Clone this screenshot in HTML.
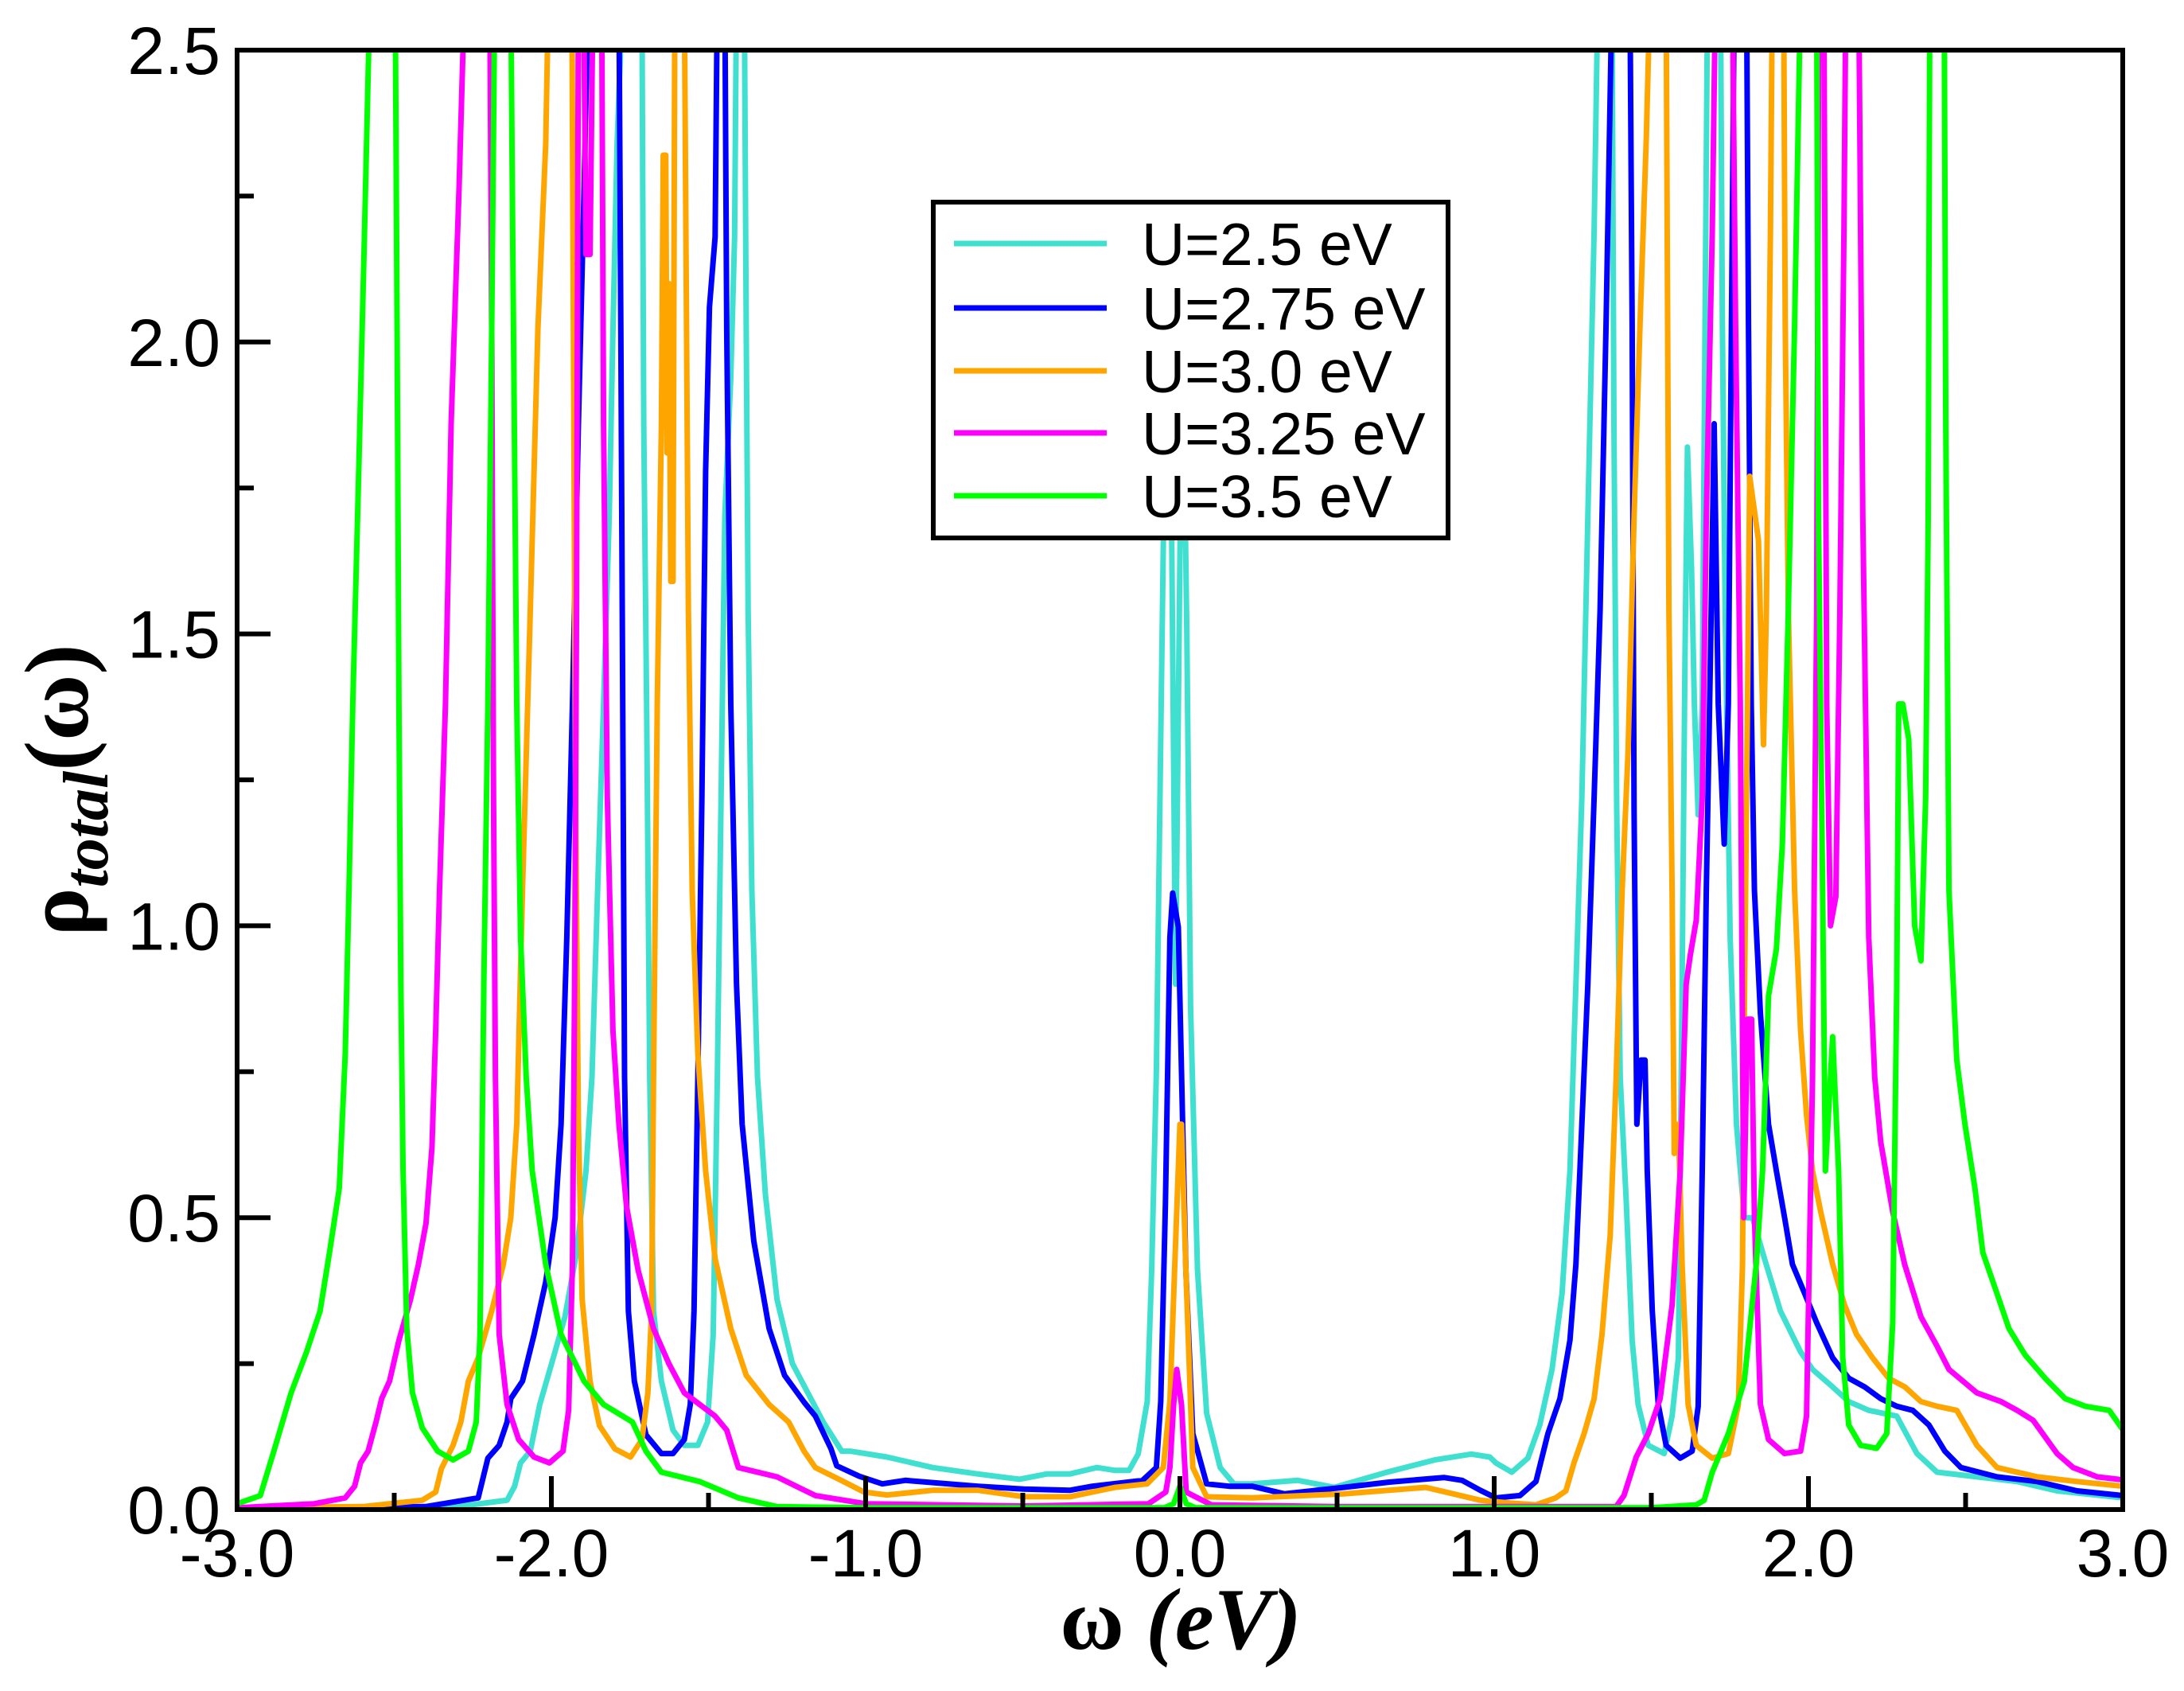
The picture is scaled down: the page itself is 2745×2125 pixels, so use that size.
<!DOCTYPE html>
<html><head><meta charset="utf-8"><style>
html,body{margin:0;padding:0;background:#fff}
svg{display:block}
</style></head><body>
<svg id="chart" width="2745" height="2125" viewBox="0 0 2745 2125" xmlns="http://www.w3.org/2000/svg">
<defs><clipPath id="plotclip"><rect x="298" y="63" width="2370" height="1834"/></clipPath></defs>
<rect width="2745" height="2125" fill="#fff"/>
<g id="series" clip-path="url(#plotclip)"></g>
<g id="axes"></g>
<text x="1484" y="2072" text-anchor="middle" font-family="Liberation Serif, serif" font-weight="bold" font-size="110">ω <tspan font-style="italic">(eV)</tspan></text>
<text transform="translate(110,993) rotate(-90)" text-anchor="middle" font-family="Liberation Serif, serif" font-weight="bold" font-size="114">ρ<tspan font-style="italic" font-size="80" dy="25">total</tspan><tspan dy="-25">(ω)</tspan></text>
<g id="legend"></g>
</svg>
<script>
const xTicks = [-3, -2, -1, 0, 1, 2, 3];
const xTickLabels = ["-3.0", "-2.0", "-1.0", "0.0", "1.0", "2.0", "3.0"];
const yTicks = [0, 0.5, 1, 1.5, 2, 2.5];
const yTickLabels = ["0.0", "0.5", "1.0", "1.5", "2.0", "2.5"];
const seriesNames = ["U=2.5 eV", "U=2.75 eV", "U=3.0 eV", "U=3.25 eV", "U=3.5 eV"];
const seriesColors = ["#40e0d0", "#0000ff", "#ffa500", "#ff00ff", "#00ff00"];

const u250 = [[-3,0.003],[-2.3,0.005],[-2.141,0.016],[-2.117,0.04],[-2.098,0.08],[-2.067,0.1],[-2.037,0.18],[-1.994,0.26],[-1.957,0.33],[-1.92,0.44],[-1.89,0.58],[-1.871,0.74],[-1.853,1.06],[-1.834,1.38],[-1.816,1.7],[-1.804,2.02],[-1.791,2.34],[-1.773,2.6],[-1.742,3.5],[-1.712,2.6],[-1.706,1.86],[-1.697,1.38],[-1.687,0.74],[-1.675,0.34],[-1.65,0.22],[-1.613,0.136],[-1.577,0.11],[-1.534,0.11],[-1.503,0.15],[-1.485,0.3],[-1.472,0.74],[-1.46,1.22],[-1.448,1.7],[-1.429,1.94],[-1.417,2.18],[-1.411,2.6],[-1.399,3.5],[-1.386,2.6],[-1.38,2.02],[-1.374,1.54],[-1.362,1.06],[-1.344,0.74],[-1.319,0.54],[-1.282,0.36],[-1.233,0.25],[-1.184,0.2],[-1.135,0.15],[-1.076,0.1],[-1.049,0.1],[-0.932,0.09],[-0.787,0.072],[-0.642,0.061],[-0.511,0.052],[-0.424,0.061],[-0.351,0.061],[-0.264,0.072],[-0.206,0.067],[-0.162,0.067],[-0.133,0.095],[-0.104,0.185],[-0.09,0.41],[-0.075,0.75],[-0.061,1.32],[-0.053,1.65],[-0.043,1.9],[-0.03,1.9],[-0.014,0.9],[0.005,1.9],[0.012,1.9],[0.022,1.5],[0.034,0.86],[0.056,0.41],[0.085,0.165],[0.128,0.072],[0.172,0.044],[0.23,0.044],[0.375,0.05],[0.491,0.038],[0.666,0.065],[0.811,0.085],[0.927,0.095],[0.986,0.09],[1.005,0.08],[1.056,0.064],[1.107,0.088],[1.145,0.145],[1.184,0.24],[1.216,0.37],[1.241,0.58],[1.26,0.9],[1.279,1.22],[1.298,1.7],[1.318,2.19],[1.33,2.6],[1.352,3.5],[1.375,2.6],[1.381,1.86],[1.39,1.2],[1.401,0.74],[1.42,0.53],[1.439,0.29],[1.458,0.18],[1.49,0.11],[1.541,0.096],[1.566,0.16],[1.586,0.26],[1.598,0.9],[1.607,1.46],[1.615,1.82],[1.628,1.61],[1.637,1.38],[1.649,1.19],[1.662,1.38],[1.671,2.03],[1.679,2.6],[1.699,3.5],[1.72,2.6],[1.726,2.03],[1.735,1.54],[1.751,0.98],[1.771,0.66],[1.796,0.5],[1.822,0.5],[1.86,0.43],[1.911,0.34],[1.975,0.27],[2.013,0.24],[2.077,0.21],[2.128,0.185],[2.192,0.17],[2.281,0.16],[2.345,0.096],[2.409,0.064],[2.536,0.056],[2.664,0.048],[2.791,0.032],[3.0,0.02]];

const u275 = [[-3,0.002],[-2.4,0.005],[-2.233,0.02],[-2.202,0.088],[-2.166,0.11],[-2.141,0.15],[-2.129,0.19],[-2.092,0.22],[-2.055,0.3],[-2.018,0.39],[-1.988,0.5],[-1.969,0.66],[-1.951,0.98],[-1.933,1.38],[-1.914,1.86],[-1.896,2.26],[-1.883,2.6],[-1.834,3.5],[-1.785,2.6],[-1.779,2.02],[-1.773,1.38],[-1.767,0.74],[-1.755,0.34],[-1.736,0.22],[-1.699,0.128],[-1.65,0.096],[-1.613,0.096],[-1.577,0.12],[-1.558,0.18],[-1.546,0.34],[-1.534,0.74],[-1.521,1.22],[-1.509,1.78],[-1.497,2.06],[-1.479,2.18],[-1.472,2.6],[-1.46,3.5],[-1.448,2.6],[-1.442,2.02],[-1.429,1.38],[-1.411,0.9],[-1.393,0.66],[-1.356,0.46],[-1.307,0.31],[-1.258,0.23],[-1.196,0.184],[-1.16,0.16],[-1.11,0.104],[-1.092,0.075],[-1.02,0.057],[-0.947,0.044],[-0.874,0.05],[-0.642,0.04],[-0.496,0.035],[-0.351,0.033],[-0.279,0.04],[-0.119,0.05],[-0.075,0.072],[-0.061,0.185],[-0.046,0.525],[-0.032,0.98],[-0.023,1.056],[-0.005,0.998],[0.005,0.75],[0.019,0.41],[0.041,0.13],[0.085,0.044],[0.157,0.04],[0.23,0.04],[0.332,0.027],[0.521,0.038],[0.666,0.047],[0.84,0.055],[0.898,0.05],[0.956,0.033],[1.005,0.02],[1.082,0.024],[1.133,0.048],[1.171,0.13],[1.209,0.19],[1.241,0.29],[1.26,0.42],[1.279,0.66],[1.298,0.9],[1.318,1.22],[1.337,1.54],[1.356,2.03],[1.375,2.6],[1.403,3.5],[1.432,2.6],[1.439,2.03],[1.445,1.2],[1.454,0.66],[1.467,0.77],[1.48,0.77],[1.487,0.58],[1.503,0.34],[1.522,0.18],[1.547,0.11],[1.592,0.088],[1.63,0.1],[1.649,0.177],[1.662,0.58],[1.675,1.06],[1.688,1.46],[1.7,1.86],[1.713,1.38],[1.732,1.14],[1.745,1.38],[1.755,2.03],[1.764,2.6],[1.783,3.5],[1.803,2.6],[1.809,2.03],[1.818,1.38],[1.828,1.06],[1.847,0.85],[1.873,0.66],[1.898,0.58],[1.924,0.5],[1.949,0.42],[1.988,0.37],[2.026,0.32],[2.077,0.26],[2.128,0.225],[2.179,0.21],[2.23,0.19],[2.281,0.177],[2.332,0.17],[2.383,0.145],[2.434,0.1],[2.485,0.072],[2.6,0.056],[2.728,0.048],[2.855,0.032],[3.0,0.024]];

const u300 = [[-3,0.003],[-2.6,0.005],[-2.411,0.016],[-2.368,0.03],[-2.35,0.07],[-2.313,0.11],[-2.288,0.15],[-2.264,0.22],[-2.233,0.26],[-2.19,0.34],[-2.153,0.42],[-2.129,0.5],[-2.11,0.66],[-2.092,1.06],[-2.067,1.54],[-2.043,2.02],[-2.018,2.34],[-2.009,2.6],[-1.972,3.5],[-1.935,2.6],[-1.93,2.02],[-1.923,1.22],[-1.914,0.66],[-1.902,0.36],[-1.877,0.22],[-1.847,0.144],[-1.798,0.104],[-1.748,0.09],[-1.712,0.12],[-1.693,0.2],[-1.681,0.34],[-1.675,0.74],[-1.663,1.38],[-1.65,1.86],[-1.644,2.32],[-1.636,2.32],[-1.632,1.81],[-1.626,2.1],[-1.62,1.59],[-1.613,1.59],[-1.607,2.6],[-1.593,3.5],[-1.577,2.6],[-1.564,1.54],[-1.552,1.06],[-1.534,0.78],[-1.509,0.58],[-1.479,0.43],[-1.429,0.31],[-1.38,0.23],[-1.307,0.18],[-1.245,0.15],[-1.196,0.1],[-1.16,0.072],[-1.078,0.05],[-1.005,0.03],[-0.932,0.025],[-0.787,0.033],[-0.642,0.033],[-0.496,0.022],[-0.351,0.022],[-0.206,0.038],[-0.104,0.044],[-0.053,0.072],[-0.032,0.185],[-0.017,0.41],[0.0,0.66],[0.005,0.66],[0.019,0.41],[0.041,0.072],[0.085,0.022],[0.23,0.02],[0.521,0.027],[0.782,0.038],[0.869,0.027],[0.956,0.016],[1.055,0.011],[1.133,0.008],[1.196,0.02],[1.228,0.032],[1.254,0.08],[1.286,0.13],[1.318,0.19],[1.343,0.3],[1.369,0.47],[1.388,0.74],[1.407,1.06],[1.426,1.3],[1.445,1.7],[1.464,2.03],[1.484,2.35],[1.496,2.6],[1.522,3.5],[1.547,2.6],[1.556,1.54],[1.566,1.06],[1.573,0.61],[1.586,0.66],[1.598,0.42],[1.617,0.18],[1.643,0.11],[1.694,0.088],[1.745,0.096],[1.777,0.18],[1.79,0.42],[1.796,0.85],[1.806,1.38],[1.813,1.77],[1.841,1.66],[1.857,1.31],[1.866,1.54],[1.879,2.19],[1.885,2.6],[1.903,3.5],[1.921,2.6],[1.926,2.03],[1.936,1.54],[1.956,1.06],[1.975,0.82],[1.994,0.675],[2.013,0.58],[2.039,0.51],[2.077,0.42],[2.115,0.35],[2.153,0.3],[2.204,0.26],[2.255,0.225],[2.307,0.21],[2.358,0.185],[2.409,0.177],[2.472,0.17],[2.536,0.11],[2.6,0.072],[2.728,0.056],[2.855,0.048],[3.0,0.04]];

const u325 = [[-3,0.003],[-2.755,0.01],[-2.656,0.02],[-2.626,0.04],[-2.607,0.08],[-2.583,0.1],[-2.558,0.15],[-2.54,0.19],[-2.515,0.22],[-2.485,0.29],[-2.448,0.36],[-2.423,0.42],[-2.399,0.49],[-2.38,0.62],[-2.368,0.82],[-2.356,1.06],[-2.337,1.38],[-2.319,1.86],[-2.294,2.26],[-2.276,2.6],[-2.239,3.5],[-2.196,2.6],[-2.19,2.02],[-2.184,1.22],[-2.178,0.74],[-2.166,0.3],[-2.141,0.18],[-2.104,0.12],[-2.055,0.09],[-2.006,0.08],[-1.963,0.1],[-1.945,0.17],[-1.933,0.42],[-1.926,0.9],[-1.92,1.54],[-1.914,2.6],[-1.904,3.0],[-1.89,2.15],[-1.877,2.15],[-1.859,3.0],[-1.84,2.6],[-1.834,1.86],[-1.822,1.22],[-1.804,0.82],[-1.785,0.66],[-1.761,0.52],[-1.724,0.41],[-1.675,0.31],[-1.626,0.25],[-1.577,0.2],[-1.479,0.16],[-1.442,0.136],[-1.405,0.072],[-1.282,0.056],[-1.16,0.024],[-1.0,0.01],[-0.5,0.006],[-0.1,0.01],[-0.045,0.03],[-0.032,0.072],[-0.02,0.18],[-0.01,0.24],[0.005,0.18],[0.02,0.03],[0.1,0.008],[0.5,0.005],[1.0,0.005],[1.388,0.005],[1.413,0.024],[1.452,0.09],[1.49,0.13],[1.528,0.19],[1.566,0.35],[1.592,0.58],[1.611,0.9],[1.624,0.95],[1.643,1.01],[1.662,1.22],[1.675,1.7],[1.694,2.19],[1.704,2.6],[1.732,3.5],[1.758,2.6],[1.768,2.03],[1.783,1.38],[1.794,0.5],[1.806,0.84],[1.819,0.84],[1.828,0.5],[1.847,0.18],[1.873,0.12],[1.924,0.096],[1.975,0.1],[1.994,0.16],[2.013,0.74],[2.026,1.54],[2.033,2.6],[2.041,3.0],[2.049,2.6],[2.058,1.38],[2.07,1.0],[2.087,1.05],[2.1,1.54],[2.113,2.19],[2.119,2.6],[2.141,3.5],[2.16,2.6],[2.173,1.7],[2.192,0.98],[2.211,0.74],[2.23,0.63],[2.268,0.51],[2.306,0.42],[2.358,0.33],[2.409,0.28],[2.447,0.24],[2.536,0.2],[2.613,0.185],[2.664,0.17],[2.715,0.153],[2.791,0.096],[2.842,0.072],[2.919,0.056],[3.0,0.051]];

const u350 = [[-3.0,0.01],[-2.926,0.024],[-2.883,0.1],[-2.828,0.2],[-2.779,0.27],[-2.736,0.34],[-2.706,0.44],[-2.675,0.55],[-2.656,0.78],[-2.644,1.06],[-2.632,1.38],[-2.613,1.78],[-2.595,2.18],[-2.577,2.6],[-2.54,3.5],[-2.497,2.6],[-2.491,2.02],[-2.485,1.38],[-2.479,0.9],[-2.472,0.58],[-2.46,0.31],[-2.442,0.2],[-2.411,0.14],[-2.362,0.1],[-2.313,0.085],[-2.264,0.1],[-2.239,0.15],[-2.227,0.3],[-2.215,0.9],[-2.202,1.38],[-2.19,2.02],[-2.18,2.6],[-2.155,3.5],[-2.129,2.6],[-2.123,2.18],[-2.11,1.38],[-2.098,0.98],[-2.08,0.74],[-2.061,0.58],[-2.018,0.42],[-1.969,0.3],[-1.896,0.22],[-1.834,0.18],[-1.742,0.15],[-1.699,0.1],[-1.65,0.064],[-1.528,0.048],[-1.405,0.02],[-1.282,0.005],[-1.0,0.003],[-0.05,0.003],[-0.02,0.01],[0,0.04],[0.02,0.01],[0.05,0.003],[1.5,0.003],[1.643,0.008],[1.668,0.016],[1.694,0.064],[1.745,0.13],[1.796,0.22],[1.834,0.42],[1.854,0.58],[1.873,0.88],[1.898,0.96],[1.917,1.14],[1.936,1.54],[1.956,2.03],[1.975,2.6],[2.0,3.5],[2.026,2.6],[2.032,1.7],[2.045,1.06],[2.054,0.58],[2.077,0.81],[2.096,0.58],[2.109,0.26],[2.128,0.145],[2.166,0.11],[2.217,0.105],[2.249,0.13],[2.268,0.32],[2.281,0.9],[2.287,1.38],[2.3,1.38],[2.319,1.32],[2.338,1.0],[2.358,0.94],[2.373,1.22],[2.381,1.7],[2.386,2.6],[2.409,3.5],[2.432,2.6],[2.437,1.86],[2.447,1.06],[2.472,0.77],[2.498,0.66],[2.53,0.55],[2.555,0.44],[2.6,0.37],[2.638,0.31],[2.689,0.265],[2.753,0.225],[2.817,0.19],[2.881,0.177],[2.957,0.17],[3.0,0.137]];

const allSeries = [u250, u275, u300, u325, u350];
const NS = "http://www.w3.org/2000/svg";
const L = 298, R = 2668, T = 63, B = 1897;
const xMin = -3, xMax = 3, yMin = 0, yMax = 2.5;
function xs(w) { return L + (w - xMin) / (xMax - xMin) * (R - L); }
function ys(r) { return B - (r - yMin) / (yMax - yMin) * (B - T); }
function mk(tag, attrs, parent) {
  const e = document.createElementNS(NS, tag);
  for (const k in attrs) e.setAttribute(k, attrs[k]);
  parent.appendChild(e);
  return e;
}
const slugs = ["u-2-5", "u-2-75", "u-3-0", "u-3-25", "u-3-5"];
const sg = document.getElementById("series");
allSeries.forEach((data, i) => {
  const d = data.map((p, j) => (j ? "L" : "M") + xs(p[0]).toFixed(1) + "," + ys(p[1]).toFixed(1)).join("");
  const p = mk("path", {d: d, fill: "none", stroke: seriesColors[i], "stroke-width": 7, "stroke-linejoin": "round"}, sg);
  
  
});

const ax = document.getElementById("axes");
const frame = mk("rect", {x: L, y: T, width: R - L, height: B - T, fill: "none", stroke: "#000", "stroke-width": 6}, ax);


for (let v = -3; v <= 3.001; v += 0.5) {
  const major = Math.abs(v - Math.round(v)) < 1e-6;
  const t = mk("line", {x1: xs(v), x2: xs(v), y1: B, y2: B - (major ? 42 : 21), stroke: "#000", "stroke-width": 6}, ax);
  
  
}
for (let v = 0; v <= 2.501; v += 0.25) {
  const major = Math.abs(v * 2 - Math.round(v * 2)) < 1e-6;
  const t = mk("line", {x1: L, x2: L + (major ? 42 : 21), y1: ys(v), y2: ys(v), stroke: "#000", "stroke-width": 6}, ax);
  
  
}
xTicks.forEach((v, i) => {
  const t = mk("text", {x: xs(v), y: 1981, "text-anchor": "middle", "font-family": "Liberation Sans, sans-serif", "font-size": 84}, ax);
  t.textContent = xTickLabels[i];
  
  
});
yTicks.forEach((v, i) => {
  const t = mk("text", {x: 277, y: ys(v) + 30, "text-anchor": "end", "font-family": "Liberation Sans, sans-serif", "font-size": 84}, ax);
  t.textContent = yTickLabels[i];
  
  
});

const lg = document.getElementById("legend");
const box = mk("rect", {x: 1173, y: 254, width: 647, height: 422, fill: "#fff", stroke: "#000", "stroke-width": 6}, lg);


const rowY = [306, 387, 466, 544, 623];
seriesNames.forEach((n, i) => {
  const ln = mk("line", {x1: 1199, x2: 1391, y1: rowY[i], y2: rowY[i], stroke: seriesColors[i], "stroke-width": 7}, lg);
  
  
  const tx = mk("text", {x: 1435, y: rowY[i] + 27, "font-family": "Liberation Sans, sans-serif", "font-size": 75}, lg);
  tx.textContent = n;
  
  
});
</script>
</body></html>
